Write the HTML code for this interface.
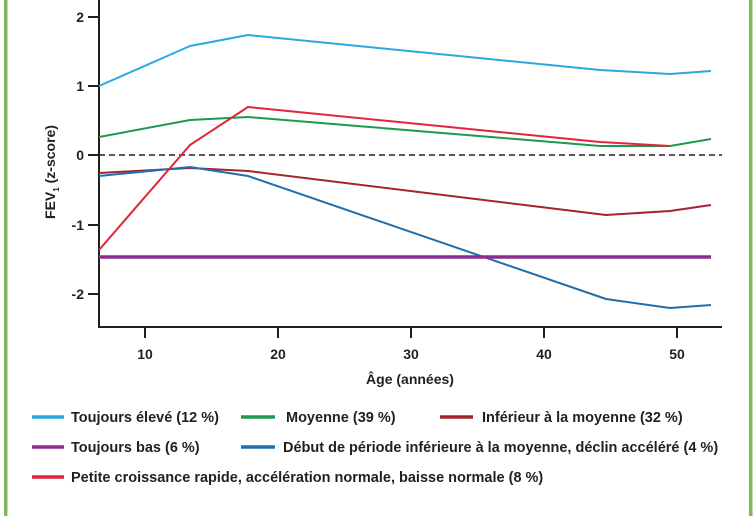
<!DOCTYPE html>
<html><head><meta charset="utf-8"><style>
html,body{margin:0;padding:0;background:#fff}
svg{display:block}
text{font-family:"Liberation Sans",sans-serif;font-weight:bold;fill:#231f20}
</style></head><body>
<svg width="756" height="516" viewBox="0 0 756 516" xmlns="http://www.w3.org/2000/svg">
<rect x="4" y="0" width="3.5" height="516" fill="#7dba5a"/>
<rect x="749" y="0" width="3.5" height="516" fill="#7dba5a"/>
<g stroke="#231f20" stroke-width="2" fill="none">
<line x1="99" y1="0" x2="99" y2="328"/>
<line x1="98" y1="327" x2="722" y2="327"/>
<line x1="88" y1="17" x2="99" y2="17"/>
<line x1="88" y1="86" x2="99" y2="86"/>
<line x1="88" y1="155" x2="99" y2="155"/>
<line x1="88" y1="225" x2="99" y2="225"/>
<line x1="88" y1="294" x2="99" y2="294"/>
<line x1="145" y1="327" x2="145" y2="338"/>
<line x1="278" y1="327" x2="278" y2="338"/>
<line x1="411" y1="327" x2="411" y2="338"/>
<line x1="544" y1="327" x2="544" y2="338"/>
<line x1="677" y1="327" x2="677" y2="338"/>
</g>
<line x1="99" y1="155" x2="722" y2="155" stroke="#231f20" stroke-width="1.6" stroke-dasharray="6,4"/>
<g font-size="14" text-anchor="end">
<text x="84" y="22">2</text><text x="84" y="91">1</text><text x="84" y="160">0</text>
<text x="84" y="230">-1</text><text x="84" y="299">-2</text>
</g>
<g font-size="14" text-anchor="middle">
<text x="145" y="359">10</text><text x="278" y="359">20</text><text x="411" y="359">30</text>
<text x="544" y="359">40</text><text x="677" y="359">50</text>
<text x="410" y="384">Âge (années)</text>
</g>
<text transform="translate(55,172) rotate(-90)" font-size="14" text-anchor="middle">FEV<tspan font-size="8" dy="4">1</tspan><tspan dy="-4"> (z-score)</tspan></text>
<g fill="none" stroke-width="2" stroke-linejoin="round">
<polyline stroke="#29a9df" points="99,86 190,46 248,35 600,70 670,74 711,71"/>
<polyline stroke="#1e9a50" points="99,137 190,120 248,117 600,146 670,146 711,139"/>
<polyline stroke="#a3232f" points="99,173 190,168 248,171 606,215 670,211 711,205"/>
<polyline stroke="#1f6fad" points="99,176 190,167 248,176 606,299 670,308 711,305"/>
<polyline stroke="#e0263a" points="99,250 190,145 248,107 600,142 670,146"/>
<line stroke="#8b2c8f" stroke-width="3.5" x1="99" y1="257" x2="711" y2="257"/>
</g>
<g stroke-width="3.5">
<line x1="32" y1="417" x2="64" y2="417" stroke="#29a9df"/>
<line x1="241" y1="417" x2="275" y2="417" stroke="#1e9a50"/>
<line x1="440" y1="417" x2="473" y2="417" stroke="#a3232f"/>
<line x1="32" y1="447" x2="64" y2="447" stroke="#8b2c8f"/>
<line x1="241" y1="447" x2="275" y2="447" stroke="#1f6fad"/>
<line x1="32" y1="477" x2="64" y2="477" stroke="#e0263a"/>
</g>
<g font-size="14.5">
<text x="71" y="422">Toujours élevé (12 %)</text>
<text x="286" y="422">Moyenne (39 %)</text>
<text x="482" y="422">Inférieur à la moyenne (32 %)</text>
<text x="71" y="452">Toujours bas (6 %)</text>
<text x="283" y="452">Début de période inférieure à la moyenne, déclin accéléré (4 %)</text>
<text x="71" y="482">Petite croissance rapide, accélération normale, baisse normale (8 %)</text>
</g>
</svg>
</body></html>
